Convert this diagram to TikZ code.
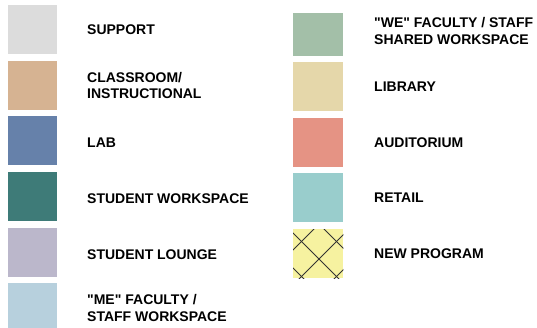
\documentclass[tikz,border=0pt]{standalone}
\usepackage{fontspec}
\setmainfont{Liberation Sans}
\definecolor{support}{HTML}{DCDCDC}
\definecolor{classroom}{HTML}{D6B392}
\definecolor{lab}{HTML}{6681AA}
\definecolor{studws}{HTML}{3E7B78}
\definecolor{lounge}{HTML}{BBB7CB}
\definecolor{mews}{HTML}{B7D0DD}
\definecolor{wews}{HTML}{A3BFA8}
\definecolor{library}{HTML}{E5D7AA}
\definecolor{audit}{HTML}{E59384}
\definecolor{retail}{HTML}{99CDCC}
\definecolor{newprog}{HTML}{F6F2A0}
\begin{document}
\begin{tikzpicture}[x=1pt,y=-1pt,
	swatch/.style={inner sep=0pt,anchor=north west,minimum width=49pt,minimum height=49pt},
	lbl/.style={anchor=west,inner sep=0pt,align=left,text=black,font=\fontsize{14}{16.5}\selectfont\bfseries},
	hatch/.style={line width=1pt,color=black!80}]
		\clip (0,0) rectangle (537,327);
		% left column
		\node[swatch,fill=support] (sup) at (8,5) {};
		\node[lbl] (supt) at (87,29.5) {SUPPORT};
		\node[swatch,fill=classroom] (cls) at (8,61) {};
		\node[lbl] (clst) at (87,85.5) {CLASSROOM/\\INSTRUCTIONAL};
		\node[swatch,fill=lab] (lab) at (8,116) {};
		\node[lbl] (labt) at (87,142.5) {LAB};
		\node[swatch,fill=studws] (sws) at (8,172) {};
		\node[lbl] (swst) at (87,199) {STUDENT WORKSPACE};
		\node[swatch,fill=lounge] (lng) at (8,228) {};
		\node[lbl] (lngt) at (87,254.5) {STUDENT LOUNGE};
		\node[swatch,fill=mews] (me) at (8,283) {};
		\node[lbl] (met) at (87,308) {\textquotedbl ME\textquotedbl{} FACULTY /\\STAFF WORKSPACE};
		% right column
		\node[swatch,fill=wews,minimum width=50pt,minimum height=43pt] (we) at (293,13) {};
		\node[lbl] (wet) at (374,31) {\textquotedbl WE\textquotedbl{} FACULTY / STAFF\\SHARED WORKSPACE};
		\node[swatch,fill=library,minimum width=50pt] (lib) at (293,62) {};
		\node[lbl] (libt) at (374,87) {LIBRARY};
		\node[swatch,fill=audit,minimum width=50pt] (aud) at (293,118) {};
		\node[lbl] (audt) at (374,142.5) {AUDITORIUM};
		\node[swatch,fill=retail,minimum width=50pt] (ret) at (293,173) {};
		\node[lbl] (rett) at (374,198) {RETAIL};
		\node[swatch,fill=newprog,minimum width=50pt] (newp) at (293,229) {};
		\node[lbl] (newpt) at (374,253.7) {NEW PROGRAM};
		\begin{scope}
			\clip (newp.south west) rectangle (newp.north east);
			\foreach \c in {25,60,95} \draw[hatch] (\c+200,200) -- (\c+350,350);
			\foreach \d in {543,578,613} \draw[hatch] (\d-200,200) -- (\d-350,350);
		\end{scope}
\end{tikzpicture}
\end{document}
